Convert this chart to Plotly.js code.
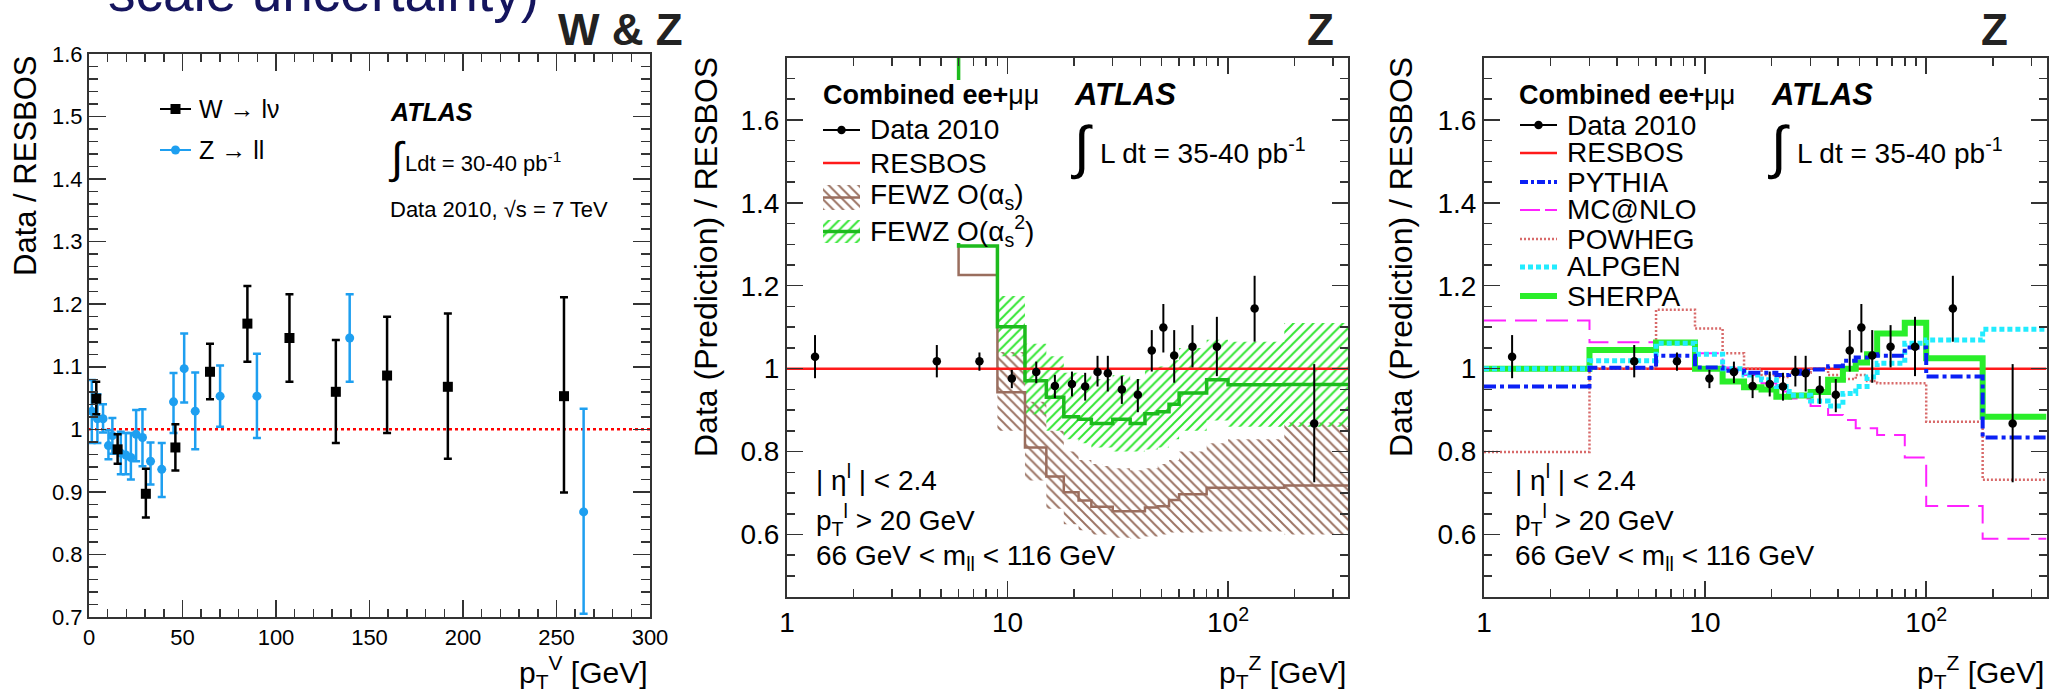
<!DOCTYPE html>
<html><head><meta charset="utf-8">
<script src="https://cdn.plot.ly/plotly-3.0.1.min.js"></script>
<style>html,body{margin:0;padding:0;background:#fff;}#chart{width:2050px;height:693px;}</style>
</head><body><div id="chart"></div>
<script>
// ================= DATA =================
// Panel 1: Data / RESBOS vs pT^V (linear)
const wPt    = [3.9, 15.3, 30.4, 46.2, 64.7, 84.7, 107.2, 132.0, 159.4, 191.9, 254.0];
const wRatio = [1.049, 0.968, 0.897, 0.971, 1.092, 1.169, 1.146, 1.060, 1.086, 1.068, 1.053];
const wHi    = [1.076, 0.992, 0.937, 1.008, 1.137, 1.229, 1.216, 1.143, 1.180, 1.185, 1.211];
const wLo    = [1.024, 0.945, 0.859, 0.934, 1.048, 1.108, 1.076, 0.978, 0.994, 0.953, 0.899];

const zPt1    = [1.5, 4.5, 7.5, 10.4, 12.5, 17.0, 19.7, 22.4, 25.2, 28.6, 32.9, 38.9, 45.2, 50.9, 56.8, 70.1, 89.8, 139.4, 264.5];
const zRatio1 = [1.029, 1.017, 1.017, 0.974, 0.990, 0.962, 0.959, 0.955, 0.992, 0.987, 0.949, 0.936, 1.044, 1.097, 1.029, 1.053, 1.053, 1.146, 0.868];
const zHi1    = [1.079, 1.056, 1.040, 0.999, 1.018, 0.996, 0.994, 0.994, 1.031, 1.032, 0.979, 0.978, 1.090, 1.153, 1.091, 1.102, 1.121, 1.216, 1.033];
const zLo1    = [0.978, 0.978, 0.995, 0.952, 0.961, 0.928, 0.928, 0.920, 0.949, 0.941, 0.912, 0.892, 0.994, 1.043, 0.968, 1.004, 0.986, 1.076, 0.705];

const resbosRef = 1.0;

// Panels 2 & 3: Z pT bins (log axis)
const binEdges = [0, 3, 6, 9, 12, 15, 18, 21, 24, 27, 30, 36, 42, 48, 54, 60, 80, 100, 180, 350];
const zPt    = [1.34, 4.78, 7.46, 10.46, 13.5, 16.4, 19.6, 22.5, 25.6, 28.5, 33.0, 39.0, 45.1, 50.9, 57.0, 69.0, 89.0, 132, 246];
const zRatio = [1.029, 1.018, 1.018, 0.976, 0.992, 0.958, 0.963, 0.957, 0.992, 0.989, 0.950, 0.937, 1.044, 1.099, 1.032, 1.053, 1.053, 1.145, 0.868];
const zHi    = [1.081, 1.057, 1.039, 0.997, 1.017, 0.985, 0.993, 0.990, 1.031, 1.031, 0.982, 0.975, 1.093, 1.156, 1.093, 1.105, 1.125, 1.224, 1.011];
const zLo    = [0.977, 0.979, 0.995, 0.953, 0.965, 0.929, 0.933, 0.923, 0.957, 0.945, 0.915, 0.895, 0.993, 1.039, 0.966, 1.003, 0.982, 1.065, 0.726];

// FEWZ predictions / RESBOS, bins from 3 GeV upward (first bin off scale)
const fewzFirstBin = 1;
const fewzAs    = [2.0, 1.226, 0.943, 0.810, 0.740, 0.702, 0.682, 0.667, 0.667, 0.656, 0.656, 0.665, 0.668, 0.683, 0.697, 0.713, 0.713, 0.718];
const fewzAsHi  = [null, null, 1.04, 0.92, 0.85, 0.80, 0.78, 0.77, 0.765, 0.76, 0.755, 0.76, 0.77, 0.78, 0.80, 0.82, 0.83, 0.87];
const fewzAsLo  = [null, null, 0.85, 0.73, 0.662, 0.625, 0.61, 0.60, 0.60, 0.592, 0.59, 0.595, 0.60, 0.605, 0.605, 0.607, 0.607, 0.60];
const fewzAs2   = [2.0, 1.296, 1.101, 0.971, 0.931, 0.884, 0.878, 0.868, 0.868, 0.878, 0.868, 0.891, 0.896, 0.914, 0.941, 0.973, 0.961, 0.962];
const fewzAs2Hi = [null, null, 1.175, 1.06, 1.03, 0.99, 0.985, 0.975, 0.975, 0.985, 0.975, 1.0, 1.005, 1.02, 1.05, 1.07, 1.065, 1.11];
const fewzAs2Lo = [null, null, 1.03, 0.89, 0.85, 0.83, 0.82, 0.81, 0.81, 0.80, 0.80, 0.805, 0.81, 0.83, 0.85, 0.875, 0.86, 0.86];

// MC generators / RESBOS (19 bins)
const pythia  = [0.957, 1.002, 1.031, 1.003, 0.995, 0.990, 0.990, 0.985, 0.988, 0.995, 0.998, 1.006, 1.019, 1.027, 1.035, 1.031, 1.051, 0.981, 0.834];
const mcatnlo = [1.116, 1.064, 1.067, 1.037, 1.003, 0.985, 0.965, 0.945, 0.928, 0.928, 0.910, 0.888, 0.876, 0.856, 0.856, 0.840, 0.786, 0.669, 0.590];
const powheg  = [0.799, 1.000, 1.142, 1.097, 1.037, 1.000, 0.985, 0.980, 0.990, 0.990, 1.000, 0.985, 0.975, 0.985, 0.970, 0.965, 0.965, 0.872, 0.732];
const alpgen  = [1.000, 1.019, 1.061, 1.035, 1.000, 0.985, 0.973, 0.957, 0.936, 0.936, 0.922, 0.910, 0.940, 0.957, 0.980, 1.013, 1.061, 1.069, 1.095];
const sherpa  = [1.000, 1.045, 1.063, 1.000, 0.969, 0.955, 0.950, 0.932, 0.935, 0.935, 0.944, 0.973, 1.000, 1.015, 1.035, 1.085, 1.111, 1.025, 0.884];

// ================= BUILD =================
const W = 2050, H = 693;
const FONT = 'Liberation Sans, Arial, Helvetica, sans-serif';
const LOGMIN = 1, LOGMAX = 350;
const C = {blue:'#1e9ff0', red:'#ff1a1a', brown:'#9a6e5e', brownH:'#9c7464', green:'#1dbb1d', greenH:'#33e633',
  pythia:'#0b20f5', mcnlo:'#ff22ff', powheg:'#d86a6a', alpgen:'#22ecff', sherpa:'#2aee2a'};
const HATCH = {size:7, solidity:0.28};

const clampE = e => Math.max(e, LOGMIN);
function steps(edges, vals, xa, ya, line) {
  return {x: edges.map(clampE), y: vals.concat([vals[vals.length-1]]), xaxis:xa, yaxis:ya, mode:'lines',
    line: Object.assign({shape:'hv'}, line), hoverinfo:'skip', showlegend:false};
}
function band(edges, hi, lo, xa, ya, shape, color) {
  const xs = [], ys = [];
  for (let i = 0; i < hi.length; i++) if (hi[i] != null) { xs.push(clampE(edges[i]), edges[i+1]); ys.push(hi[i], hi[i]); }
  for (let i = hi.length-1; i >= 0; i--) if (lo[i] != null) { xs.push(edges[i+1], clampE(edges[i])); ys.push(lo[i], lo[i]); }
  return {x:xs, y:ys, xaxis:xa, yaxis:ya, mode:'lines', fill:'toself', line:{width:0, color:'rgba(0,0,0,0)'},
    fillcolor:'rgba(0,0,0,0)', fillpattern:Object.assign({shape, fgcolor:color, bgcolor:'rgba(0,0,0,0)'}, HATCH),
    hoverinfo:'skip', showlegend:false};
}
const diff = (a, b) => a.map((v, i) => v - b[i]);

const traces = [];
// ---- Panel 1
traces.push({x:zPt1, y:zRatio1, xaxis:'x', yaxis:'y', mode:'markers', marker:{symbol:'circle', size:9, color:C.blue},
  error_y:{type:'data', symmetric:false, array:diff(zHi1, zRatio1), arrayminus:diff(zRatio1, zLo1), color:C.blue, thickness:2.5, width:4},
  hoverinfo:'skip', showlegend:false});
traces.push({x:wPt, y:wRatio, xaxis:'x', yaxis:'y', mode:'markers', marker:{symbol:'square', size:10, color:'#000'},
  error_y:{type:'data', symmetric:false, array:diff(wHi, wRatio), arrayminus:diff(wRatio, wLo), color:'#000', thickness:2.5, width:4},
  hoverinfo:'skip', showlegend:false});

// ---- Panel 2
const fEdges = binEdges.slice(fewzFirstBin);
traces.push(band(fEdges, fewzAsHi, fewzAsLo, 'x2', 'y2', '\\', C.brownH));
traces.push(band(fEdges, fewzAs2Hi, fewzAs2Lo, 'x2', 'y2', '/', C.greenH));
traces.push(steps(fEdges, fewzAs, 'x2', 'y2', {color:C.brown, width:2.5}));
traces.push(steps(fEdges, fewzAs2, 'x2', 'y2', {color:C.green, width:3.5}));
function resbosLine(xa, ya) {
  return {x:[clampE(binEdges[0]), binEdges[binEdges.length-1]], y:[resbosRef, resbosRef], xaxis:xa, yaxis:ya, mode:'lines',
    line:{color:C.red, width:2.5}, hoverinfo:'skip', showlegend:false};
}
traces.push(resbosLine('x2', 'y2'));
function dataTrace(xa, ya) {
  return {x:zPt, y:zRatio, xaxis:xa, yaxis:ya, mode:'markers', marker:{symbol:'circle', size:8.5, color:'#000'},
    error_y:{type:'data', symmetric:false, array:diff(zHi, zRatio), arrayminus:diff(zRatio, zLo), color:'#000', thickness:2, width:0},
    hoverinfo:'skip', showlegend:false};
}
traces.push(dataTrace('x2', 'y2'));

// ---- Panel 3
traces.push(resbosLine('x3', 'y3'));
traces.push(steps(binEdges, powheg,  'x3', 'y3', {color:C.powheg, width:2.5, dash:'2px,2px'}));
traces.push(steps(binEdges, mcatnlo, 'x3', 'y3', {color:C.mcnlo, width:2, dash:'22px,9px'}));
traces.push(steps(binEdges, sherpa,  'x3', 'y3', {color:C.sherpa, width:6}));
traces.push(steps(binEdges, alpgen,  'x3', 'y3', {color:C.alpgen, width:5, dash:'5px,3px'}));
traces.push(steps(binEdges, pythia,  'x3', 'y3', {color:C.pythia, width:4, dash:'12px,4px,4px,4px'}));
traces.push(dataTrace('x3', 'y3'));

// ---- Legend swatches on a pixel overlay axis (x4/y4)
function sLine(x0, x1, y, line) { traces.push({x:[x0, x1], y:[y, y], xaxis:'x4', yaxis:'y4', mode:'lines', line, hoverinfo:'skip', showlegend:false}); }
function sDot(x, y, symbol, color, size) { traces.push({x:[x], y:[y], xaxis:'x4', yaxis:'y4', mode:'markers', marker:{symbol, color, size}, hoverinfo:'skip', showlegend:false}); }
function sRect(x0, x1, y0, y1, fill, pattern) {
  const t = {x:[x0, x1, x1, x0, x0], y:[y0, y0, y1, y1, y0], xaxis:'x4', yaxis:'y4', mode:'lines', fill:'toself',
    line:{width:0, color:'rgba(0,0,0,0)'}, fillcolor:fill, hoverinfo:'skip', showlegend:false};
  if (pattern) t.fillpattern = pattern;
  traces.push(t);
}
// panel 1 legend
sLine(160, 191, 109, {color:'#000', width:2}); sDot(175.5, 109, 'square', '#000', 10);
sLine(160, 191, 150, {color:C.blue, width:2}); sDot(175.5, 150, 'circle', C.blue, 9);
// panel 2 legend (white box hides off-scale FEWZ edges)
sRect(812, 1062, 80, 243, '#ffffff');
sLine(823, 860, 130, {color:'#000', width:2}); sDot(841.5, 130, 'circle', '#000', 8.5);
sLine(823, 860, 163, {color:C.red, width:2.5});
sRect(823, 860, 185, 210, 'rgba(0,0,0,0)', Object.assign({shape:'\\', fgcolor:C.brownH, bgcolor:'rgba(0,0,0,0)'}, HATCH));
sLine(823, 860, 197.5, {color:C.brown, width:2.5});
sRect(823, 860, 220, 243, 'rgba(0,0,0,0)', Object.assign({shape:'/', fgcolor:C.greenH, bgcolor:'rgba(0,0,0,0)'}, HATCH));
sLine(823, 860, 231.5, {color:C.green, width:3.5});
// panel 3 legend
sLine(1520, 1557, 125, {color:'#000', width:2}); sDot(1538.5, 125, 'circle', '#000', 8.5);
sLine(1520, 1557, 153, {color:C.red, width:2.5});
sLine(1520, 1557, 182, {color:C.pythia, width:4, dash:'8px,3px,3px,3px'});
sLine(1520, 1557, 210, {color:C.mcnlo, width:2, dash:'20px,5px'});
sLine(1520, 1557, 239, {color:C.powheg, width:2.5, dash:'2px,2px'});
sLine(1520, 1557, 267, {color:C.alpgen, width:5, dash:'5px,3px'});
sLine(1520, 1557, 296, {color:C.sherpa, width:6});

// ================= LAYOUT =================
const dx = (a, b) => [a/W, b/W];
const dy = (top, bot) => [1 - bot/H, 1 - top/H];
const axBase = {showline:true, linecolor:'#333', linewidth:2, mirror:'allticks', ticks:'inside', tickcolor:'#333',
  tickwidth:1.5, showgrid:false, zeroline:false, fixedrange:true};
function logX(dom, anchor) {
  const minorVals = [];
  [1, 10, 100].forEach(d => { for (let k = 2; k <= 9; k++) if (k*d < LOGMAX) minorVals.push(k*d); });
  return Object.assign({}, axBase, {domain:dom, anchor, type:'log', range:[Math.log10(LOGMIN), Math.log10(LOGMAX)],
    tickmode:'array', tickvals:[1, 10, 100], ticktext:['1', '10', '10<sup>2</sup>'], ticklen:16,
    tickfont:{family:FONT, size:28, color:'#000'},
    minor:{ticks:'inside', tickmode:'array', tickvals:minorVals, ticklen:8, tickcolor:'#333', tickwidth:1.5}});
}
function ratioY(dom, anchor) {
  return Object.assign({}, axBase, {domain:dom, anchor, range:[0.45, 1.75], tick0:0, dtick:0.2, ticklen:16,
    tickfont:{family:FONT, size:28, color:'#000'},
    minor:{ticks:'inside', tick0:0, dtick:0.05, ticklen:8, tickcolor:'#333', tickwidth:1.5}});
}

function note(x, y, text, size, o) {
  return Object.assign({xref:'paper', yref:'paper', x:x/W, y:1 - y/H, text, showarrow:false, xanchor:'left', yanchor:'middle',
    font:{family:FONT, size, color:'#000'}}, o || {});
}
const ann = [
  note(106, 25, 'scale uncertainty)', 55, {yanchor:'bottom', font:{family:FONT, size:55, color:'#15155e'}}),
  note(556, 30, '<b>W &amp; Z</b>', 44, {font:{family:FONT, size:44, color:'#222'}}),
  note(1305, 30, '<b>Z</b>', 44, {font:{family:FONT, size:44, color:'#222'}}),
  note(1979, 30, '<b>Z</b>', 44, {font:{family:FONT, size:44, color:'#222'}}),
  // panel 1
  note(26, 166, 'Data / RESBOS', 31, {xanchor:'center', textangle:-90}),
  note(650, 672, 'p<sub>T</sub><sup>V</sup> [GeV]', 30, {xanchor:'right'}),
  note(197, 109, 'W \u2192 l\u03bd', 25),
  note(197, 150, 'Z \u2192 ll', 25),
  note(388, 112, '<b><i>ATLAS</i></b>', 25),
  note(386, 158, '\u222b', 44),
  note(403, 162, 'Ldt = 30-40 pb<sup>-1</sup>', 22),
  note(388, 209, 'Data 2010, \u221as = 7 TeV', 22),
  // panel 2
  note(706, 257, 'Data (Prediction) / RESBOS', 32, {xanchor:'center', textangle:-90}),
  note(1348, 672, 'p<sub>T</sub><sup>Z</sup> [GeV]', 30, {xanchor:'right'}),
  note(821, 95, '<b>Combined ee+</b>\u03bc\u03bc', 27),
  note(868, 130, 'Data 2010', 28),
  note(868, 163, 'RESBOS', 28),
  note(868, 197, 'FEWZ O(\u03b1<sub>s</sub>)', 28),
  note(868, 231, 'FEWZ O(\u03b1<sub>s</sub><sup>2</sup>)', 28),
  note(1072, 94, '<b><i>ATLAS</i></b>', 31),
  note(1069, 147, '\u222b', 58),
  note(1098, 151, 'L dt = 35-40 pb<sup>-1</sup>', 28),
  note(814, 478, '| \u03b7<sup>l</sup> | &lt; 2.4', 28),
  note(814, 520, 'p<sub>T</sub><sup>l</sup> &gt; 20 GeV', 28),
  note(814, 557, '66 GeV &lt; m<sub>ll</sub> &lt; 116 GeV', 28),
  // panel 3
  note(1401, 257, 'Data (Prediction) / RESBOS', 32, {xanchor:'center', textangle:-90}),
  note(2046, 672, 'p<sub>T</sub><sup>Z</sup> [GeV]', 30, {xanchor:'right'}),
  note(1517, 95, '<b>Combined ee+</b>\u03bc\u03bc', 27),
  note(1565, 125, 'Data 2010', 28),
  note(1565, 153, 'RESBOS', 28),
  note(1565, 182, 'PYTHIA', 28),
  note(1565, 210, 'MC@NLO', 28),
  note(1565, 239, 'POWHEG', 28),
  note(1565, 267, 'ALPGEN', 28),
  note(1565, 296, 'SHERPA', 28),
  note(1769, 94, '<b><i>ATLAS</i></b>', 31),
  note(1766, 147, '\u222b', 58),
  note(1795, 151, 'L dt = 35-40 pb<sup>-1</sup>', 28),
  note(1513, 478, '| \u03b7<sup>l</sup> | &lt; 2.4', 28),
  note(1513, 520, 'p<sub>T</sub><sup>l</sup> &gt; 20 GeV', 28),
  note(1513, 557, '66 GeV &lt; m<sub>ll</sub> &lt; 116 GeV', 28)
];

const layout = {
  width:W, height:H, margin:{l:0, r:0, t:0, b:0}, paper_bgcolor:'#fff', plot_bgcolor:'rgba(0,0,0,0)',
  showlegend:false, font:{family:FONT, color:'#000'},
  xaxis: Object.assign({}, axBase, {domain:dx(89, 650), anchor:'y', range:[0, 300], tick0:0, dtick:50, ticklen:17,
    tickfont:{family:FONT, size:22, color:'#000'}, minor:{ticks:'inside', dtick:10, ticklen:8, tickcolor:'#333', tickwidth:1.5}}),
  yaxis: Object.assign({}, axBase, {domain:dy(54, 617), anchor:'x', range:[0.7, 1.6], tick0:0, dtick:0.1, ticklen:17,
    tickfont:{family:FONT, size:22, color:'#000'}, minor:{ticks:'inside', tick0:0, dtick:0.02, ticklen:9, tickcolor:'#333', tickwidth:1.5}}),
  xaxis2: logX(dx(787, 1348), 'y2'),
  yaxis2: ratioY(dy(57.7, 596.7), 'x2'),
  xaxis3: logX(dx(1484, 2046.5), 'y3'),
  yaxis3: ratioY(dy(57.7, 596.7), 'x3'),
  xaxis4: {domain:[0, 1], anchor:'y4', range:[0, W], visible:false, fixedrange:true},
  yaxis4: {domain:[0, 1], anchor:'x4', range:[H, 0], visible:false, fixedrange:true},
  shapes: [
    {type:'line', xref:'x domain', yref:'y', x0:0, x1:1, y0:resbosRef, y1:resbosRef, layer:'below',
     line:{color:'#ff0000', width:2.5, dash:'dot'}}
  ],
  annotations: ann
};

Plotly.newPlot('chart', traces, layout, {staticPlot:true, displayModeBar:false});
</script>
</body></html>
